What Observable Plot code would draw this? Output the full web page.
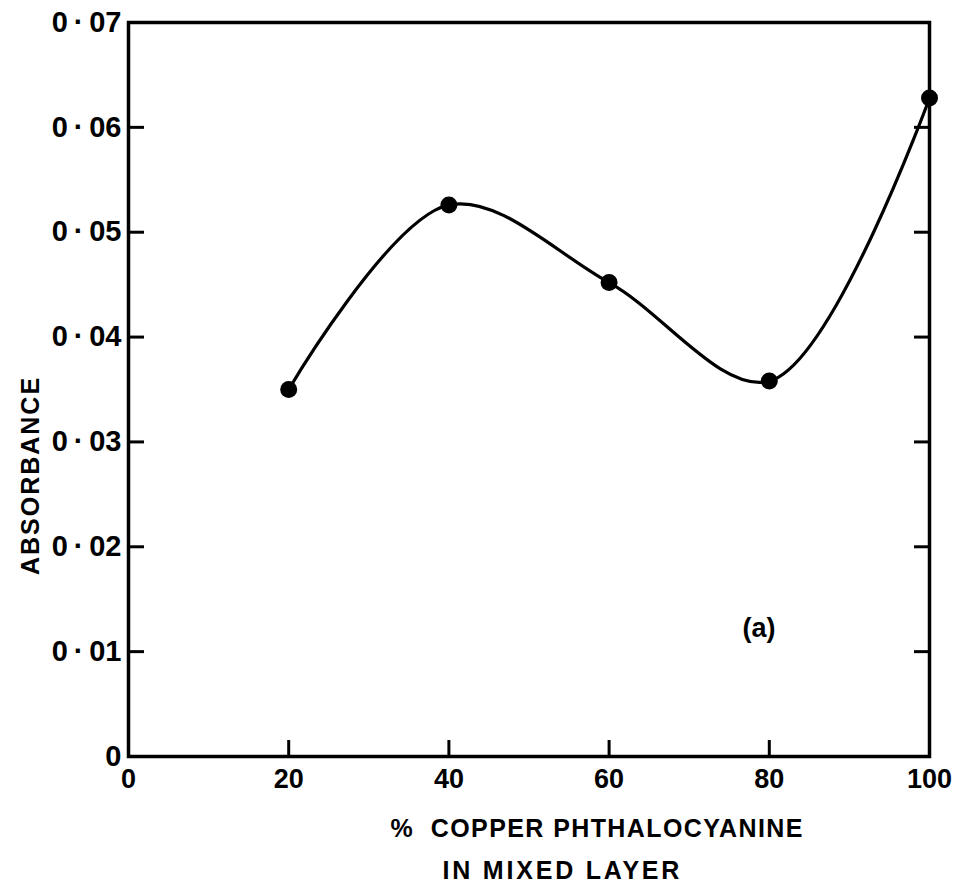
<!DOCTYPE html>
<html><head><meta charset="utf-8">
<script src="https://cdn.jsdelivr.net/npm/d3@7"></script>
<script src="https://cdn.jsdelivr.net/npm/@observablehq/plot@0.6"></script>
<style>body{margin:0;background:#fff}</style>
</head><body><div id="chart"></div>
<script>
const copperPct = [20, 40, 60, 80, 100];
const absorbance = [0.035, 0.0526, 0.0452, 0.0358, 0.0628];
const xTicks = [0, 20, 40, 60, 80, 100];
const xTickLabels = ["0", "20", "40", "60", "80", "100"];
const yTicks = [0, 0.01, 0.02, 0.03, 0.04, 0.05, 0.06, 0.07];
const yTickLabels = ["0", "0\u2009·\u200901", "0\u2009·\u200902", "0\u2009·\u200903", "0\u2009·\u200904", "0\u2009·\u200905", "0\u2009·\u200906", "0\u2009·\u200907"];
const xInnerTicks = [20, 40, 60, 80];
const yInnerTicks = [0.01, 0.02, 0.03, 0.04, 0.05, 0.06];
const xLabelLine1 = "%  COPPER PHTHALOCYANINE";
const xLabelLine2 = "IN MIXED LAYER";
const yLabel = "ABSORBANCE";
const panelLabel = "(a)";

const data = copperPct.map((x, i) => ({x, y: absorbance[i]}));
const FONT = "'Liberation Sans', Arial, sans-serif";

const chart = Plot.plot({
  width: 954,
  height: 892,
  marginLeft: 128,
  marginRight: 25,
  marginTop: 22,
  marginBottom: 136,
  style: {fontFamily: FONT, color: "#000", background: "#fff", fontWeight: "bold"},
  x: {domain: [0, 100]},
  y: {domain: [0, 0.07]},
  marks: [
    Plot.axisY({ticks: yTicks, tickSize: 0, tickPadding: 7, fontSize: 29, tickFormat: (d) => yTickLabels[yTicks.indexOf(d)], label: null}),
    Plot.axisY({ticks: yInnerTicks, tickSize: -16, strokeWidth: 3, tickFormat: () => "", label: null}),
    Plot.axisY({anchor: "right", ticks: yInnerTicks, tickSize: -16, strokeWidth: 3, tickFormat: () => "", label: null}),
    Plot.axisX({ticks: xTicks, tickSize: 0, tickPadding: 12, fontSize: 27, tickFormat: (d) => xTickLabels[xTicks.indexOf(d)], label: null}),
    Plot.axisX({ticks: xInnerTicks, tickSize: -16, strokeWidth: 3, tickFormat: () => "", label: null}),
    Plot.frame({stroke: "#000", strokeWidth: 3.5}),
    Plot.line(data, {x: "x", y: "y", curve: "catmull-rom", stroke: "#000", strokeWidth: 3.2}),
    Plot.dot(data, {x: "x", y: "y", r: 8.5, fill: "#000"}),
    Plot.text([panelLabel], {x: () => 78.7, y: () => 0.0122, fontSize: 27, fontWeight: "bold"}),
    Plot.text([xLabelLine1], {frameAnchor: "bottom-left", dx: 262, dy: 80, textAnchor: "start", fontSize: 25}),
    Plot.text([xLabelLine2], {frameAnchor: "bottom-left", dx: 314, dy: 122, textAnchor: "start", fontSize: 25}),
    Plot.text([yLabel], {frameAnchor: "left", y: () => 0.0268, rotate: -90, dx: -98, textAnchor: "middle", fontSize: 25})
  ]
});
const txt = d3.select(chart).selectAll("text");
txt.filter(function () { return this.textContent === xLabelLine1; }).style("letter-spacing", "1.4px");
txt.filter(function () { return this.textContent === xLabelLine2; }).style("letter-spacing", "2.8px");
txt.filter(function () { return this.textContent === yLabel; }).style("letter-spacing", "2px");
document.getElementById("chart").appendChild(chart);
</script>
</body></html>
